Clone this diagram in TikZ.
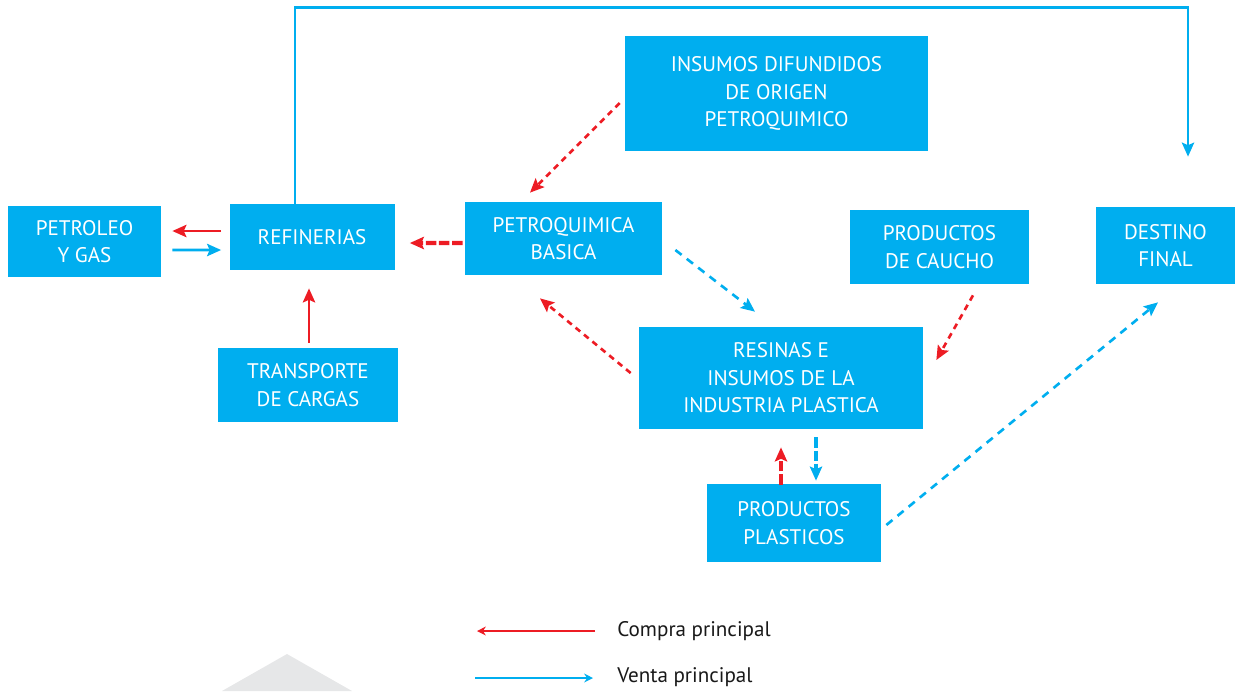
\documentclass[tikz,border=0pt]{standalone}
\usepackage{fontspec}
\setmainfont{PT Sans}
\usepackage{tikz}
\usetikzlibrary{arrows.meta, calc}
\definecolor{cajaazul}{HTML}{00AEEF}
\definecolor{rojo}{HTML}{ED1C24}
\definecolor{grisclaro}{HTML}{E6E7E8}
\tikzset{
x=0.02cm, y=-0.02cm, % one unit is one pixel of the sketch
>={Stealth[length=8pt, width=7pt, inset=1.5pt]}, % filled arrow heads
caja/.style={fill=cajaazul, text=white, align=center, inner sep=0pt,
  font=\fontsize{12}{15.6}\selectfont}, % the blue boxes
compra/.style={->, rojo, line width=1.5pt}, % main purchase
venta/.style={->, cajaazul, line width=1.5pt}, % main sale
compraline/.style={compra, dash pattern=on 3.4pt off 2.8pt}, % dashed purchase
ventaline/.style={venta, dash pattern=on 4.5pt off 3.7pt}, % dashed sale
gruesa/.style={line width=2.4pt, dash pattern=on 6pt off 1.5pt}, % the short thick ones
}

\begin{document}
\begin{tikzpicture}
    \useasboundingbox (0,0) rectangle (1237,691);
    \fill[grisclaro] (222,691) -- (287,654) -- (352,691) -- cycle;

    \node[caja, minimum width=153*0.02cm, minimum height=71*0.02cm] (petroleo) at (84.5,241.5) {PETROLEO\\Y GAS};
    \node[caja, minimum width=165*0.02cm, minimum height=66*0.02cm] (refinerias) at (312,237) {REFINERIAS};
    \node[caja, minimum width=197*0.02cm, minimum height=73*0.02cm] (petroquimica) at (563.5,238.5) {PETROQUIMICA\\BASICA};
    \node[caja, minimum width=303*0.02cm, minimum height=115*0.02cm] (insumos) at (776.5,93.5) {INSUMOS DIFUNDIDOS\\DE ORIGEN\\PETROQUIMICO};
    \node[caja, minimum width=179*0.02cm, minimum height=74*0.02cm] (caucho) at (939.5,247) {PRODUCTOS\\DE CAUCHO};
    \node[caja, minimum width=139*0.02cm, minimum height=77*0.02cm] (destino) at (1165.5,245.5) {DESTINO\\FINAL};
    \node[caja, minimum width=180*0.02cm, minimum height=74*0.02cm] (transporte) at (308,385) {TRANSPORTE\\DE CARGAS};
    \node[caja, minimum width=284*0.02cm, minimum height=102*0.02cm] (resinas) at (781,378) {RESINAS E\\INSUMOS DE LA\\INDUSTRIA PLASTICA};
    \node[caja, minimum width=174*0.02cm, minimum height=78*0.02cm] (plasticos) at (794,523) {PRODUCTOS\\PLASTICOS};

    \draw[compra] ($(refinerias.west)+(-8,-6)$) -- ($(petroleo.east)+(11,-10.5)$);
    \draw[venta] ($(petroleo.east)+(11,8.5)$) -- ($(refinerias.west)+(-8,13)$);
    \draw[compra, gruesa] ($(petroquimica.west)+(-2,4.5)$) -- ($(refinerias.east)+(15,6)$);
    \draw[compra] ($(transporte.north)+(1,-5)$) -- ($(refinerias.south)+(-3,18)$);
    \draw[venta] ($(refinerias.north)+(-17,0)$) -- ++(0,-196) -| ($(destino.north)+(22.5,-50)$);
    \draw[compraline] ($(insumos.west)+(-5,9.5)$) -- ($(petroquimica.north)+(-33.5,-9)$);
    \draw[ventaline] ($(petroquimica.east)+(13,11.5)$) -- ($(resinas.north)+(-26,-15)$);
    \draw[compraline] ($(resinas.west)+(-8,-5)$) -- ($(petroquimica.south)+(-23.5,23)$);
    \draw[compraline] ($(caucho.south)+(33.5,11)$) -- ($(resinas.east)+(13,-18)$);
    \draw[compra, gruesa] ($(plasticos.north)+(-13,1)$) -- ($(resinas.south)+(0,18)$);
    \draw[venta, gruesa] ($(resinas.south)+(35,8)$) -- ($(plasticos.north)+(22,-3)$);
    \draw[ventaline] ($(plasticos.east)+(5,2)$) -- ($(destino.south)+(-7.5,18)$);

    % legend
    \node[anchor=west, text=black!90, font=\fontsize{12}{14}\selectfont, inner sep=0pt] (compraleyenda) at (617,631) {Compra principal};
    \node[anchor=west, text=black!90, font=\fontsize{12}{14}\selectfont, inner sep=0pt] (ventaleyenda) at (617,677) {Venta principal};
    \coordinate (compracola) at (477,631);
    \coordinate (ventacola) at (475,678);
    \draw[rojo, line width=1.5pt, -{Stealth[length=5pt, width=5pt]}] ($(compraleyenda.west)+(-22,0)$) -- (compracola);
    \draw[cajaazul, line width=1.5pt, {}-{Stealth[length=5pt, width=5pt]}] (ventacola) -- ($(ventaleyenda.west)+(-24,1)$);
\end{tikzpicture}
\end{document}
